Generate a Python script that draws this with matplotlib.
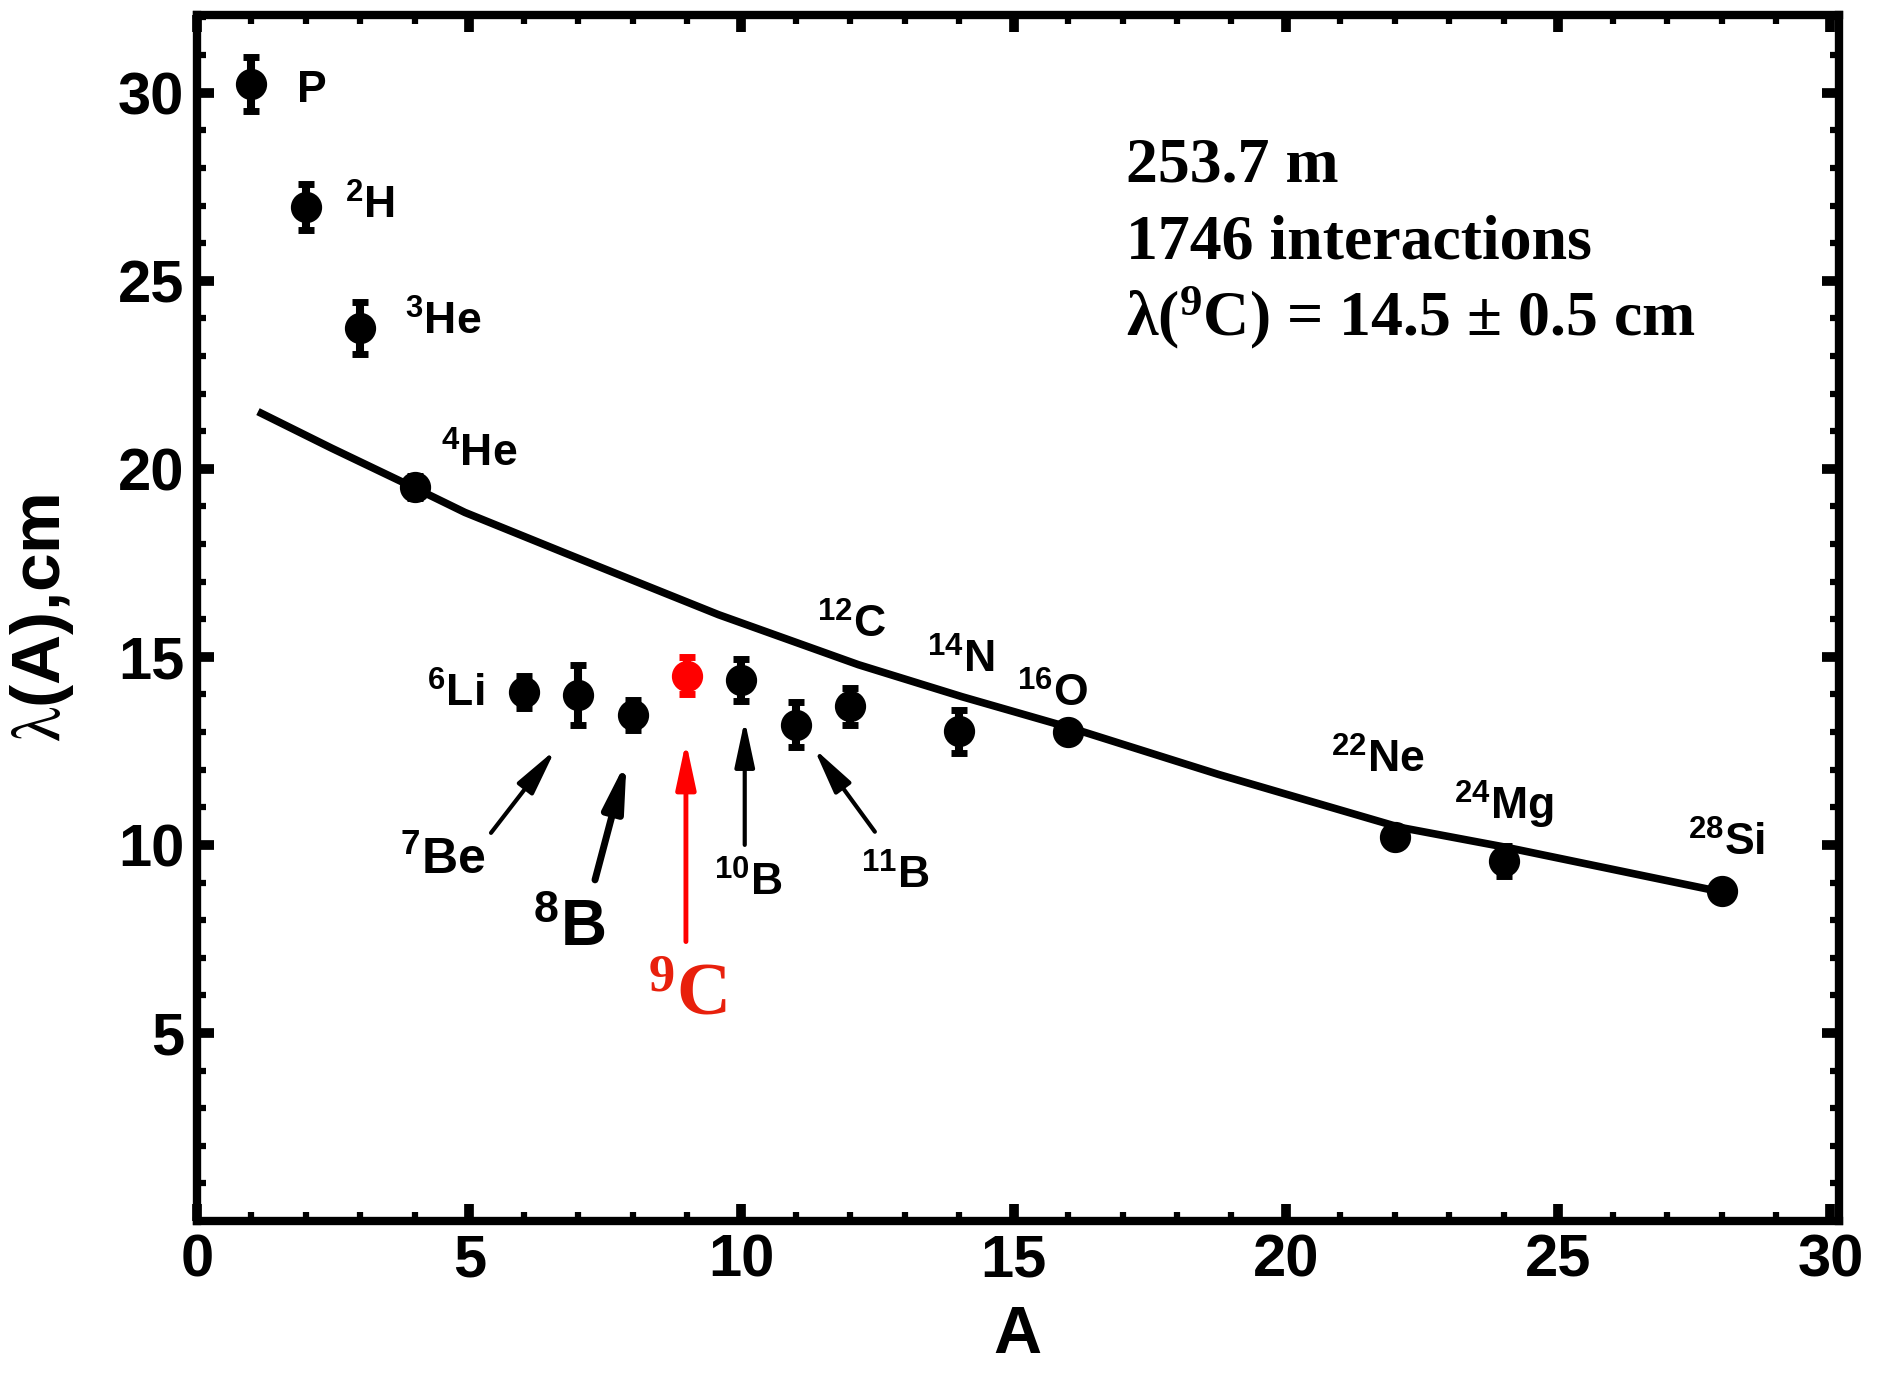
import matplotlib.pyplot as plt
from matplotlib.ticker import MultipleLocator

plt.rcParams['font.family'] = ['Liberation Sans', 'DejaVu Sans']
plt.rcParams['mathtext.fontset'] = 'stix'
plt.rcParams['mathtext.default'] = 'regular'

# mean free path of projectile fragments vs mass number
A_vals = [1, 2, 3, 4, 6, 7, 8, 10, 11, 12, 14, 16, 22, 24, 28]
lam_vals = [30.22, 26.96, 23.74, 19.52, 14.07, 13.98, 13.45, 14.38, 13.20, 13.68, 13.02, 13.0, 10.22, 9.58, 8.77]
lam_err = [0.72, 0.6, 0.7, 0.3, 0.43, 0.8, 0.4, 0.56, 0.6, 0.5, 0.57, 0.2, 0.15, 0.4, 0.15]

# 9C measurement
A_9c = [9]
lam_9c = [14.5]
err_9c = [0.5]

# fitted dependence
curve_A = [1.12, 2.47, 4.0, 4.92, 6.76, 9.58, 12.15, 14.05, 16.07, 18.77, 22.08, 24.1, 28.0]
curve_lam = [21.52, 20.55, 19.49, 18.84, 17.76, 16.12, 14.79, 13.94, 13.10, 11.87, 10.47, 9.92, 8.75]

fig = plt.figure(figsize=(18.78, 13.73), dpi=100)
ax = fig.add_axes([0.1049, 0.1107, 0.8741, 0.8785])

ax.plot(curve_A, curve_lam, color='k', lw=5.5, solid_capstyle='butt',
        solid_joinstyle='round', zorder=2)

ax.errorbar(A_vals, lam_vals, yerr=lam_err, fmt='o', ms=21.5, color='k',
            elinewidth=5.8, capsize=6, capthick=5, zorder=3)
ax.errorbar(A_9c, lam_9c, yerr=err_9c, fmt='o', ms=21.5, color='#ff0000',
            elinewidth=5.8, capsize=6, capthick=5, zorder=3)

# nucleus labels
labels = [
    ('P', 1.84, 29.76, 32),
    ('$^{2}$H', 2.72, 26.65, 32),
    ('$^{3}$He', 3.82, 23.56, 32),
    ('$^{4}$He', 4.49, 20.05, 32),
    ('$^{6}$Li', 4.22, 13.67, 32),
    ('$^{7}$Be', 3.72, 9.23, 36),
    ('$^{8}$B', 6.18, 7.31, 46),
    ('$^{10}$B', 9.49, 8.64, 32),
    ('$^{11}$B', 12.19, 8.83, 32),
    ('$^{12}$C', 11.38, 15.5, 32),
    ('$^{14}$N', 13.4, 14.57, 32),
    ('$^{16}$O', 15.06, 13.67, 32),
    ('$^{22}$Ne', 20.83, 11.93, 32),
    ('$^{24}$Mg', 23.09, 10.66, 32),
    ('$^{28}$Si', 27.39, 9.71, 32),
]
for txt, x, y, size in labels:
    ax.text(x, y, txt, fontsize=size, fontweight='bold', ha='left', va='baseline')

ax.text(8.29, 5.48, '$^{9}$C', fontsize=54, fontweight='bold', color='#e8200c',
        family='Liberation Serif', ha='left', va='baseline')

# arrows pointing at the light nuclei
arrows = [
    ((5.40, 10.32), (6.58, 12.53), 3.0, 'k'),
    ((7.31, 9.07), (7.89, 12.24), 5.0, 'k'),
    ((8.98, 7.43), (8.98, 12.75), 3.5, '#ff0000'),
    ((10.06, 10.0), (10.06, 13.32), 3.0, 'k'),
    ((12.45, 10.35), (11.33, 12.57), 3.0, 'k'),
]
for tail, tip, lw, col in arrows:
    ax.annotate('', xy=tip, xytext=tail,
                arrowprops=dict(arrowstyle='-|>,head_length=2.8,head_width=0.6',
                                mutation_scale=10, lw=lw, color=col,
                                shrinkA=0, shrinkB=0))

info = ['253.7 m', '1746 interactions', r'$\lambda$($^{9}$C) = 14.5 $\pm$ 0.5 cm']
for i, line in enumerate(info):
    ax.text(17.06, 27.63 - i * 2.04, line, fontsize=46, fontweight='bold',
            family='Liberation Serif', ha='left', va='baseline')

ax.set_xlim(0, 30.15)
ax.set_ylim(0, 32.07)
ax.set_xticks(range(0, 31, 5))
ax.set_yticks(range(5, 31, 5))
ax.xaxis.set_minor_locator(MultipleLocator(1))
ax.yaxis.set_minor_locator(MultipleLocator(1))
ax.tick_params(which='both', direction='in', top=True, right=True)
ax.tick_params(which='major', length=12, width=7, labelsize=43, pad=9)
ax.tick_params(which='minor', length=6.5, width=4.5)
for lab in ax.get_xticklabels() + ax.get_yticklabels():
    lab.set_fontweight('bold')
for sp in ax.spines.values():
    sp.set_linewidth(6)

ax.set_xlabel('A', fontsize=48, fontweight='bold')
ax.set_ylabel(r'$\mathrm{\lambda}$(A),cm', fontsize=50, fontweight='bold')
ax.xaxis.set_label_coords(0.5, -0.07)
ax.yaxis.set_label_coords(-0.074, 0.5)

fig.savefig('out.png', dpi=100)
